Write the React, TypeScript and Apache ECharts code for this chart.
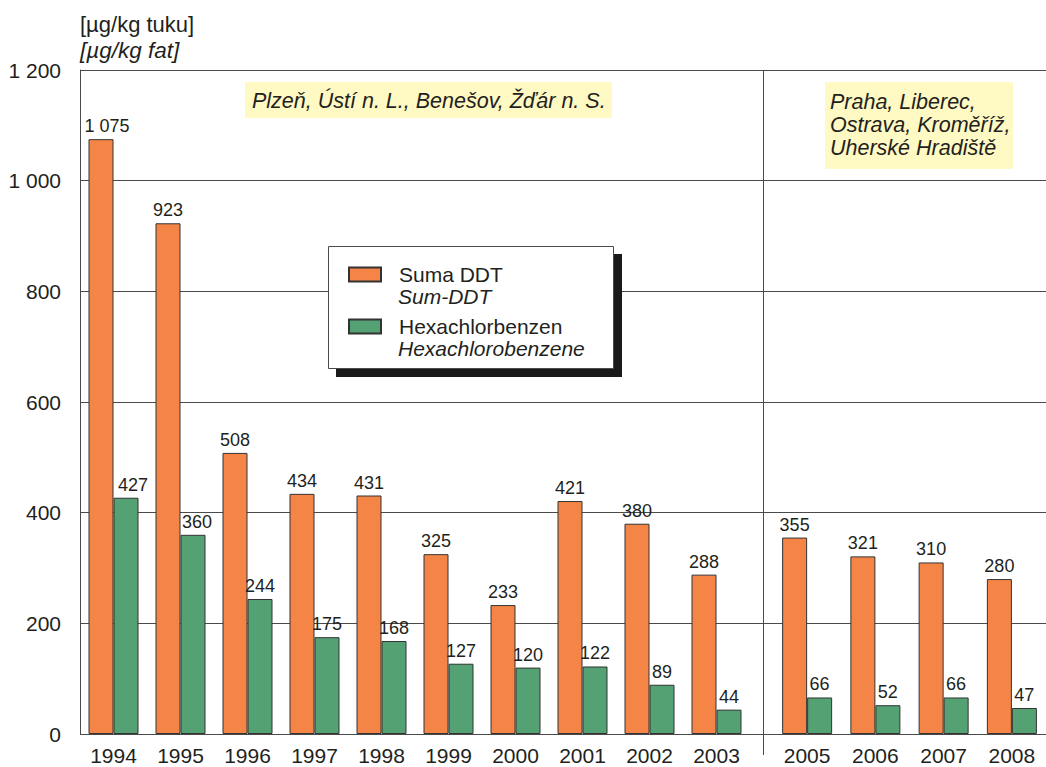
import React, { useEffect, useRef } from "react";
import * as echarts from "echarts";

const leftYears = ["1994", "1995", "1996", "1997", "1998", "1999", "2000", "2001", "2002", "2003"];
const leftDDT = [1075, 923, 508, 434, 431, 325, 233, 421, 380, 288];
const leftHCB = [427, 360, 244, 175, 168, 127, 120, 122, 89, 44];
const rightYears = ["2005", "2006", "2007", "2008"];
const rightDDT = [355, 321, 310, 280];
const rightHCB = [66, 52, 66, 47];
const yMin = 0;
const yMax = 1200;
const yInterval = 200;

const seriesNames = ["Suma DDT", "Hexachlorbenzen"];
const seriesNamesEn = ["Sum-DDT", "Hexachlorobenzene"];
const unitCz = "[µg/kg tuku]";
const unitEn = "[µg/kg fat]";
const regionLeft = "Plzeň, Ústí n. L., Benešov, Žďár n. S.";
const regionRight = ["Praha, Liberec,", "Ostrava, Kroměříž,", "Uherské Hradiště"];

const ORANGE = "#F58547";
const GREEN = "#54A174";
const FONT = '"Liberation Sans", Arial, sans-serif';
const TXT = "#231F20";
const LINE = "#4a4a4a";

const fmt = (v: number) => String(v).replace(/\B(?=(\d{3})+(?!\d))/g, " ");

export default function App() {
  const ref = useRef<HTMLDivElement>(null);
  useEffect(() => {
    if (!ref.current) return;
    const chart = echarts.init(ref.current, null, { renderer: "svg" });
    const gTop = 70;
    const gBottom = 33;
    const labelStyle = {
      show: true,
      position: "top" as const,
      distance: 4,
      fontSize: 18,
      fontFamily: FONT,
      color: TXT,
      formatter: (p: any) => fmt(p.value),
    };
    const barCommon = (color: string) => ({
      type: "bar" as const,
      barWidth: 25,
      barGap: "0%",
      itemStyle: { color, borderColor: "#333", borderWidth: 1 },
      label: labelStyle,
    });
    // first-column labels in the original sit slightly right of their bars
    const withShift = (vals: number[], shifts: number[]) =>
      vals.map((v, i) =>
        shifts[i] ? { value: v, label: { ...labelStyle, offset: [shifts[i], 0] } } : v
      );
    const hiddenY = (gi: number) => ({
      type: "value" as const,
      gridIndex: gi,
      min: yMin,
      max: yMax,
      interval: yInterval,
      show: false,
      splitLine: { show: false },
    });
    const catX = (gi: number, data: string[]) => ({
      type: "category" as const,
      gridIndex: gi,
      data,
      axisLine: { show: false },
      axisTick: { show: false },
      splitLine: { show: false },
      axisLabel: { fontSize: 21, fontFamily: FONT, color: TXT, margin: 11 },
    });
    chart.setOption({
      animation: false,
      textStyle: { fontFamily: FONT },
      grid: [
        { left: 80, right: 0, top: gTop, bottom: gBottom },
        { left: 80, width: 670, top: gTop, bottom: gBottom },
        { left: 773, width: 276, top: gTop, bottom: gBottom },
      ],
      xAxis: [
        { type: "value", gridIndex: 0, min: 0, max: 1, show: false },
        catX(1, leftYears),
        catX(2, rightYears),
      ],
      yAxis: [
        {
          type: "value",
          gridIndex: 0,
          min: yMin,
          max: yMax,
          interval: yInterval,
          axisLine: { show: true, lineStyle: { color: LINE, width: 1 } },
          axisTick: { show: false },
          splitLine: { show: true, lineStyle: { color: LINE, width: 1 } },
          axisLabel: {
            fontSize: 21,
            fontFamily: FONT,
            color: TXT,
            margin: 19,
            formatter: (v: number) => fmt(v),
          },
        },
        hiddenY(1),
        hiddenY(2),
      ],
      legend: {
        z: 20,
        data: seriesNames,
        orient: "vertical",
        left: 348,
        top: 264,
        padding: 0,
        itemWidth: 32,
        itemHeight: 14,
        itemGap: 31,
        selectedMode: false,
        icon: "rect",
        textStyle: {
          fontSize: 21,
          fontFamily: FONT,
          color: TXT,
          padding: [0, 0, 0, 13],
        },
      },
      series: [
        { ...barCommon(ORANGE), name: seriesNames[0], xAxisIndex: 1, yAxisIndex: 1, data: withShift(leftDDT, [6]) },
        { ...barCommon(GREEN), name: seriesNames[1], xAxisIndex: 1, yAxisIndex: 1, data: withShift(leftHCB, [7, 4]) },
        { ...barCommon(ORANGE), name: seriesNames[0], xAxisIndex: 2, yAxisIndex: 2, data: rightDDT },
        { ...barCommon(GREEN), name: seriesNames[1], xAxisIndex: 2, yAxisIndex: 2, data: rightHCB },
      ],
      graphic: [
        {
          type: "text",
          x: 80,
          y: 24,
          z: 10,
          style: { text: unitCz, font: `22px ${FONT}`, fill: TXT, verticalAlign: "middle" },
        },
        {
          type: "text",
          x: 80,
          y: 50,
          z: 10,
          style: { text: unitEn, font: `italic 22.5px ${FONT}`, fill: TXT, verticalAlign: "middle" },
        },
        {
          type: "line",
          z: 3,
          shape: { x1: 763.5, y1: 70, x2: 763.5, y2: 755 },
          style: { stroke: LINE, lineWidth: 1 },
        },
        {
          type: "rect",
          z: 5,
          shape: { x: 245, y: 82, width: 367, height: 36 },
          style: { fill: "#FFF9C3" },
        },
        {
          type: "text",
          x: 252,
          y: 101,
          z: 6,
          style: { text: regionLeft, font: `italic 21.5px ${FONT}`, fill: TXT, verticalAlign: "middle" },
        },
        {
          type: "rect",
          z: 5,
          shape: { x: 825, y: 82, width: 188, height: 87 },
          style: { fill: "#FFF9C3" },
        },
        ...regionRight.map((t, i) => ({
          type: "text",
          x: 830,
          y: 102 + i * 23,
          z: 6,
          style: { text: t, font: `italic 21.5px ${FONT}`, fill: TXT, verticalAlign: "middle" },
        })),
        {
          type: "rect",
          z: 7,
          shape: { x: 336, y: 254, width: 286, height: 123 },
          style: { fill: "#1a1a1a" },
        },
        {
          type: "rect",
          z: 8,
          shape: { x: 328.5, y: 246.5, width: 285, height: 122 },
          style: { fill: "#fff", stroke: LINE, lineWidth: 1 },
        },
        ...seriesNamesEn.map((t, i) => ({
          type: "text",
          x: 398,
          y: 296 + i * 52,
          z: 21,
          style: { text: t, font: `italic 21px ${FONT}`, fill: TXT, verticalAlign: "middle" },
        })),
      ],
    });
    return () => chart.dispose();
  }, []);
  return (
    <div
      ref={ref}
      style={{ position: "absolute", left: 0, top: 0, width: 1046, height: 767 }}
    />
  );
}
